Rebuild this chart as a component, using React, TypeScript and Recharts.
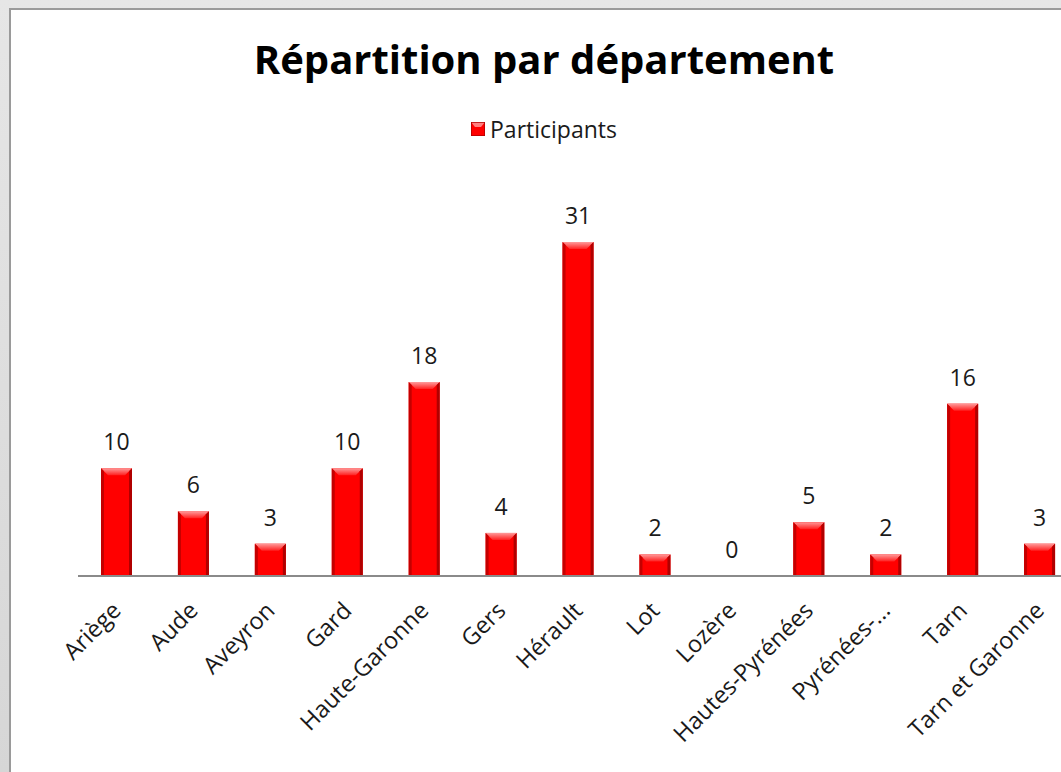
import React from 'react'
import { BarChart, Bar, XAxis, YAxis, LabelList, Legend } from 'recharts'

const departements = [
  'Ariège', 'Aude', 'Aveyron', 'Gard', 'Haute-Garonne', 'Gers', 'Hérault',
  'Lot', 'Lozère', 'Hautes-Pyrénées', 'Pyrénées-...', 'Tarn', 'Tarn et Garonne',
]
const participants = [10, 6, 3, 10, 18, 4, 31, 2, 0, 5, 2, 16, 3]

const data = departements.map((name, i) => ({ name, participants: participants[i] }))

const FONT = '"Open Sans", "Noto Sans", sans-serif'

function BevelBar(props: any) {
  const { x, y, width, height } = props
  if (!height || height <= 0) return null
  const b = Math.min(7, height / 2)
  const s = 3
  return (
    <g>
      <rect x={x} y={y} width={width} height={height} fill="#ff0000" />
      <polygon
        points={`${x},${y} ${x + width},${y} ${x + width - b},${y + b} ${x + b},${y + b}`}
        fill="url(#bevelTop)"
      />
      <polygon points={`${x},${y} ${x + s},${y + s} ${x + s},${y + height} ${x},${y + height}`} fill="#c40000" />
      <polygon
        points={`${x + width},${y} ${x + width - s},${y + s} ${x + width - s},${y + height} ${x + width},${y + height}`}
        fill="#b00000"
      />
    </g>
  )
}

function AngledTick(props: any) {
  const { x, y, payload } = props
  const px = x + 6
  const py = y + 28
  return (
    <text
      x={px}
      y={py}
      transform={`rotate(-45, ${px}, ${py})`}
      textAnchor="end"
      fontFamily={FONT}
      fontSize={23.5}
      fill="#1a1a1a"
    >
      {payload.value}
    </text>
  )
}

function LegendBox() {
  return (
    <div style={{ display: 'flex', alignItems: 'center', justifyContent: 'center', fontFamily: FONT, fontSize: 23, color: '#1a1a1a' }}>
      <svg width={14} height={14} style={{ marginRight: 5 }}>
        <rect x={0} y={0} width={14} height={14} fill="#ff0000" />
        <polygon points="0,0 14,0 10,5 4,5" fill="#ff8080" />
        <rect x={0} y={0} width={14} height={14} fill="none" stroke="#b00000" strokeWidth={1.5} />
      </svg>
      <span>Participants</span>
    </div>
  )
}

export default function App() {
  return (
    <div
      style={{
        position: 'fixed',
        left: 0,
        top: 0,
        width: 1061,
        height: 772,
        overflow: 'hidden',
        background: 'linear-gradient(#e6e6e6, #d6d6d6)',
      }}
    >
      <div
        style={{
          position: 'absolute',
          left: 9,
          top: 8,
          width: 1120,
          height: 820,
          background: '#ffffff',
          border: '2px solid #9a9a9a',
        }}
      >
        <div
          style={{
            position: 'absolute',
            left: 0,
            width: 1066,
            top: 21,
            textAlign: 'center',
            fontFamily: FONT,
            fontWeight: 700,
            fontSize: 40,
            color: '#000',
          }}
        >
          Répartition par département
        </div>
        <div style={{ position: 'absolute', left: 0, top: 0 }}>
          <BarChart
            width={1100}
            height={780}
            data={data}
            margin={{ top: 157, right: 33, bottom: 34, left: 67 }}
          >
            <defs>
              <linearGradient id="bevelTop" x1="0" y1="0" x2="0" y2="1">
                <stop offset="0%" stopColor="#ff9a9a" />
                <stop offset="100%" stopColor="#ff2020" />
              </linearGradient>
            </defs>
            <Legend
              verticalAlign="top"
              align="center"
              wrapperStyle={{ top: 103, left: 0, width: 1066 }}
              content={() => <LegendBox />}
            />
            <XAxis
              dataKey="name"
              interval={0}
              tickLine={false}
              axisLine={{ stroke: '#8a8a8a', strokeWidth: 2 }}
              height={180}
              tick={<AngledTick />}
            />
            <YAxis hide domain={[0, 35]} width={0} />
            <Bar dataKey="participants" barSize={31} shape={<BevelBar />} isAnimationActive={false}>
              <LabelList
                dataKey="participants"
                position="top"
                offset={18}
                fontFamily={FONT}
                fontSize={23}
                fill="#1a1a1a"
              />
            </Bar>
          </BarChart>
        </div>
      </div>
    </div>
  )
}
